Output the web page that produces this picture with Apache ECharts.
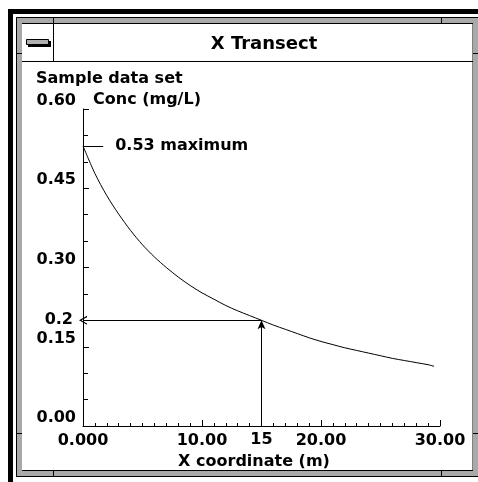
<!DOCTYPE html>
<html>
<head>
<meta charset="utf-8">
<script src="https://cdn.jsdelivr.net/npm/echarts@6/dist/echarts.min.js"></script>
<style>html,body{margin:0;padding:0;background:#fff;}#c{width:478px;height:482px;}</style>
</head>
<body>
<div id="c"></div>
<script>
// ---- data ----
const windowTitle = 'X Transect';
const chartTitle = 'Sample data set';
const yAxisName = 'Conc (mg/L)';
const xAxisName = 'X coordinate (m)';
const xValues = [0,1,2,3,4,5,6,7,8,9,10,11,12,13,14,15,16,17,18,19,20,21,22,23,24,25,26,27,28,29,29.5];
const concValues = [0.53,0.478,0.436,0.401,0.370,0.343,0.320,0.300,0.282,0.266,0.252,0.240,0.228,0.218,0.209,0.200,0.191,0.183,0.175,0.167,0.160,0.154,0.148,0.143,0.138,0.133,0.128,0.124,0.120,0.116,0.113];
const xTickValues = [0, 10, 20, 30];
const xTickLabels = ['0.000', '10.00', '20.00', '30.00'];
const yTickValues = [0, 0.15, 0.30, 0.45, 0.60];
const yTickLabels = ['0.00', '0.15', '0.30', '0.45', '0.60'];
const maxValue = 0.53;
const maxLabel = '0.53 maximum';
const probeX = 15;
const probeY = 0.2;
const probeXLabel = '15';
const probeYLabel = '0.2';

// ---- chart ----
const font = 'DejaVu Sans';
const chart = echarts.init(document.getElementById('c'), null, {renderer: 'canvas'});

const hatch = '#a9a9a9';

function lbl(v, vals, labels) {
  for (let i = 0; i < vals.length; i++) if (Math.abs(vals[i] - v) < 1e-9) return labels[i];
  return '';
}

const boldText = {fontFamily: font, fontWeight: 'bold', fontSize: 16, color: '#000'};

const option = {
  backgroundColor: '#ffffff',
  animation: false,
  title: {
    text: chartTitle, left: 36, top: 71, padding: 0,
    textStyle: {fontFamily: font, fontWeight: 'bold', fontSize: 16, color: '#000', lineHeight: 16}
  },
  grid: {left: 83, top: 109, right: 38, bottom: 56, containLabel: false},
  xAxis: {
    type: 'value', min: 0, max: 30, interval: 10,
    name: xAxisName, nameLocation: 'middle', nameGap: 28,
    nameTextStyle: Object.assign({}, boldText, {padding: [0, 15, 0, 0]}),
    axisLine: {show: true, onZero: false, lineStyle: {color: '#000', width: 1}},
    axisTick: {show: true, inside: true, length: 6, lineStyle: {color: '#000'}},
    minorTick: {show: true, splitNumber: 10, length: 3, lineStyle: {color: '#000'}},
    splitLine: {show: false},
    axisLabel: Object.assign({}, boldText, {margin: 7, lineHeight: 16,
      formatter: v => lbl(v, xTickValues, xTickLabels)})
  },
  yAxis: {
    type: 'value', min: 0, max: 0.6, interval: 0.15,
    name: yAxisName, nameLocation: 'end', nameGap: 9,
    nameTextStyle: Object.assign({}, boldText, {align: 'left', verticalAlign: 'middle', padding: [0, 0, 0, 10]}),
    axisLine: {show: true, onZero: false, lineStyle: {color: '#000', width: 1}},
    axisTick: {show: true, inside: true, length: 6, lineStyle: {color: '#000'}},
    minorTick: {show: true, splitNumber: 3, length: 5, lineStyle: {color: '#000'}},
    splitLine: {show: false},
    axisLabel: Object.assign({}, boldText, {margin: 7, verticalAlign: 'bottom', lineHeight: 16,
      formatter: v => lbl(Math.round(v * 100) / 100, yTickValues, yTickLabels)})
  },
  series: [{
    type: 'line',
    data: xValues.map((x, i) => [x, concValues[i]]),
    showSymbol: false,
    smooth: 0.3,
    lineStyle: {color: '#000', width: 1},
    silent: true,
    markLine: {
      silent: true,
      animation: false,
      symbol: ['none', 'none'],
      lineStyle: {color: '#000', width: 1, type: 'solid'},
      label: Object.assign({}, boldText),
      data: [
        [
          {coord: [0, maxValue], symbol: 'none'},
          {coord: [1.7, maxValue], symbol: 'none',
           label: Object.assign({}, boldText, {show: true, position: 'end', distance: 12, formatter: maxLabel})}
        ],
        [
          {coord: [probeX, probeY], symbol: 'none'},
          {coord: [0, probeY], symbol: 'path://M0,10 L5,0 L10,10 L8.5,10 L5,3 L1.5,10 Z', symbolSize: [9, 8],
           label: Object.assign({}, boldText, {show: true, position: 'end', distance: 10, formatter: probeYLabel})}
        ],
        [
          {coord: [probeX, 0], symbol: 'none',
           label: Object.assign({}, boldText, {show: true, position: 'start', distance: 6, formatter: probeXLabel})},
          {coord: [probeX, probeY], symbol: 'arrow', symbolSize: [6, 9],
           label: {show: false}}
        ]
      ]
    }
  }],
  graphic: [
    // outer black frame
    {type: 'rect', shape: {x: 8, y: 9, width: 470, height: 5}, style: {fill: '#000'}, silent: true},
    {type: 'rect', shape: {x: 8, y: 9, width: 5, height: 473}, style: {fill: '#000'}, silent: true},
    // hatched resize border
    {type: 'rect', shape: {x: 16, y: 17, width: 462, height: 6}, style: {fill: hatch}, silent: true},
    {type: 'rect', shape: {x: 16, y: 471, width: 462, height: 6}, style: {fill: hatch}, silent: true},
    {type: 'rect', shape: {x: 16, y: 17, width: 6, height: 460}, style: {fill: hatch}, silent: true},
    {type: 'rect', shape: {x: 473, y: 17, width: 5, height: 460}, style: {fill: hatch}, silent: true},
    {type: 'polyline', shape: {points: [[16.5, 476.5], [16.5, 17.5], [478, 17.5]]}, style: {stroke: '#000', fill: null, lineWidth: 1}, silent: true},
    {type: 'line', shape: {x1: 16, y1: 476.5, x2: 478, y2: 476.5}, style: {stroke: '#000', lineWidth: 1}, silent: true},
    {type: 'rect', shape: {x: 21.5, y: 23.5, width: 451.5, height: 447}, style: {stroke: '#000', fill: '#fff', lineWidth: 1}, z: -10, silent: true},
    // resize marks
    {type: 'line', shape: {x1: 53.5, y1: 17, x2: 53.5, y2: 24}, style: {stroke: '#000', lineWidth: 1}, silent: true},
    {type: 'line', shape: {x1: 441.5, y1: 17, x2: 441.5, y2: 24}, style: {stroke: '#000', lineWidth: 1}, silent: true},
    {type: 'line', shape: {x1: 53.5, y1: 470, x2: 53.5, y2: 477}, style: {stroke: '#000', lineWidth: 1}, silent: true},
    {type: 'line', shape: {x1: 441.5, y1: 470, x2: 441.5, y2: 477}, style: {stroke: '#000', lineWidth: 1}, silent: true},
    {type: 'line', shape: {x1: 16, y1: 53.5, x2: 22, y2: 53.5}, style: {stroke: '#000', lineWidth: 1}, silent: true},
    {type: 'line', shape: {x1: 16, y1: 433.5, x2: 22, y2: 433.5}, style: {stroke: '#000', lineWidth: 1}, silent: true},
    {type: 'line', shape: {x1: 473, y1: 53.5, x2: 478, y2: 53.5}, style: {stroke: '#000', lineWidth: 1}, silent: true},
    {type: 'line', shape: {x1: 473, y1: 433.5, x2: 478, y2: 433.5}, style: {stroke: '#000', lineWidth: 1}, silent: true},
    // title bar
    {type: 'line', shape: {x1: 22, y1: 61.5, x2: 473, y2: 61.5}, style: {stroke: '#000', lineWidth: 1}, silent: true},
    {type: 'line', shape: {x1: 53.5, y1: 23, x2: 53.5, y2: 61}, style: {stroke: '#000', lineWidth: 1}, silent: true},
    {type: 'rect', shape: {x: 28, y: 41, width: 23, height: 6}, style: {fill: '#000'}, silent: true},
    {type: 'rect', shape: {x: 26.5, y: 39.5, width: 22, height: 5}, style: {fill: '#b0b0b0', stroke: '#000', lineWidth: 1}, silent: true},
    {type: 'text', x: 264, y: 44, style: {text: windowTitle, fontFamily: font, fontWeight: 'bold', fontSize: 18, fill: '#000', align: 'center', verticalAlign: 'middle'}, silent: true}
  ]
};
chart.setOption(option);
</script>
</body>
</html>
